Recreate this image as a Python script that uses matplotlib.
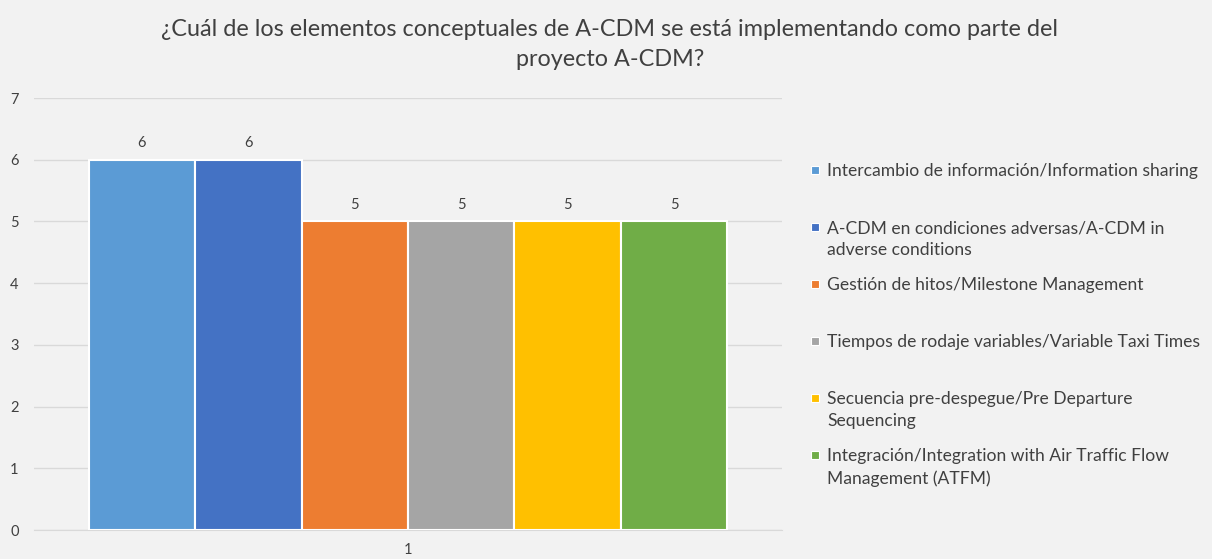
import matplotlib.pyplot as plt
from matplotlib.patches import Rectangle

# Data
labels = ['Intercambio de información/Information sharing',
          'A-CDM en condiciones adversas/A-CDM in\nadverse conditions',
          'Gestión de hitos/Milestone Management',
          'Tiempos de rodaje variables/Variable Taxi Times',
          'Secuencia pre-despegue/Pre Departure\nSequencing',
          'Integración/Integration with Air Traffic Flow\nManagement (ATFM)']
values = [6, 6, 5, 5, 5, 5]
colors = ['#5B9BD5', '#4472C4', '#ED7D31', '#A5A5A5', '#FFC000', '#70AD47']
category = 1

plt.rcParams['font.family'] = ['Lato', 'DejaVu Sans']
bg = '#F2F2F2'

fig = plt.figure(figsize=(12.12, 5.59), dpi=100, facecolor=bg)
ax = fig.add_axes([34/1212, 29/559, 748/1212, 432/559], facecolor=bg)

n = len(values)
w = 0.854 / n
for i in range(n):
    x = category - 0.427 + w * (i + 0.5)
    ax.bar(x, values[i], width=w, color=colors[i], edgecolor='white', linewidth=1.5, zorder=3)
    ax.annotate(str(values[i]), (x, values[i]), xytext=(0, 7), textcoords='offset points',
                ha='center', va='bottom', fontsize=10.5, color='#404040')

ax.set_xlim(0.5, 1.5)
ax.set_ylim(0, 7)
ax.set_yticks(range(8))
ax.set_xticks([category])
ax.grid(axis='y', color='#D9D9D9', linewidth=1, zorder=0)
for s in ['top', 'right', 'left']:
    ax.spines[s].set_visible(False)
ax.spines['bottom'].set_color('#D9D9D9')
ax.tick_params(axis='y', length=0, pad=11, labelsize=10.5, labelcolor='#404040')
ax.tick_params(axis='x', length=0, pad=9, labelsize=10.5, labelcolor='#404040')

fig.text(0.503, 1 - 19/559, '¿Cuál de los elementos conceptuales de A-CDM se está implementando como parte del\nproyecto A-CDM?',
         ha='center', va='top', fontsize=16.8, color='#404040', linespacing=1.55)

# legend drawn by hand, Excel style
y0 = 170
for i in range(n):
    yy = 1 - (y0 + 57 * i) / 559
    fig.patches.append(Rectangle((811/1212, yy - 4/559), 8/1212, 8/559, transform=fig.transFigure,
                                 facecolor=colors[i], edgecolor='white', linewidth=0.8))
    fig.text(827/1212, yy + 7/559, labels[i], ha='left', va='top', fontsize=12.6, color='#404040',
             linespacing=1.45)

fig.savefig('out.png', dpi=100, facecolor=bg)
